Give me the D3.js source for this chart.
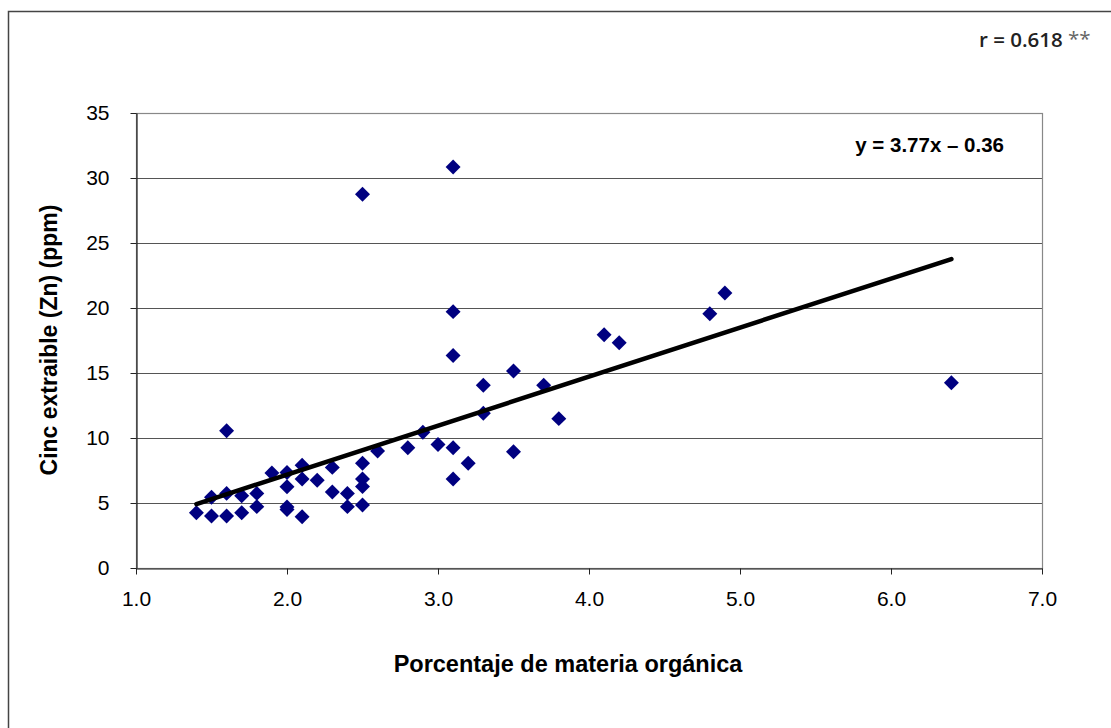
<!DOCTYPE html>
<html><head><meta charset="utf-8">
<script src="https://cdn.jsdelivr.net/npm/d3@7"></script>
<style>body{margin:0;background:#fff}svg{display:block}</style>
</head><body>
<svg id="chart" width="1111" height="728"></svg>
<script>
// % materia orgánica (x) and Cinc extraible (ppm) (y)
const materiaOrganica = [1.4, 1.5, 1.5, 1.6, 1.6, 1.6, 1.7, 1.7, 1.8, 1.8, 1.9,
  2.0, 2.0, 2.0, 2.0, 2.1, 2.1, 2.1, 2.2, 2.3, 2.3, 2.4, 2.4,
  2.5, 2.5, 2.5, 2.5, 2.5, 2.6, 2.8, 2.9, 3.0,
  3.1, 3.1, 3.1, 3.1, 3.1, 3.2, 3.3, 3.3, 3.5, 3.5, 3.7, 3.8,
  4.1, 4.2, 4.8, 4.9, 6.4];
const cincExtraible = [4.25, 5.44, 4.0, 10.56, 5.74, 4.0, 5.56, 4.25, 5.74, 4.72, 7.3,
  7.35, 6.25, 4.7, 4.5, 7.9, 6.85, 3.95, 6.75, 7.74, 5.85, 5.74, 4.72,
  28.75, 8.05, 6.85, 6.26, 4.85, 9.0, 9.25, 10.45, 9.5,
  30.85, 19.72, 16.35, 9.25, 6.85, 8.05, 14.05, 11.9, 15.15, 8.95, 14.05, 11.49,
  17.95, 17.33, 19.55, 21.15, 14.25];
const xTicks = [1, 2, 3, 4, 5, 6, 7];
const yTicks = [0, 5, 10, 15, 20, 25, 30, 35];
const trendSlope = 3.77, trendIntercept = -0.36;
const trendRange = [1.4, 6.4];
const xTitle = "Porcentaje de materia orgánica";
const yTitle = "Cinc extraible (Zn) (ppm)";
const equationLabel = "y = 3.77x \u2013 0.36";
const rLabel = "r = 0.618";
const rStars = "**";

const svg = d3.select("#chart");
const L = 136, R = 1042, T = 113, B = 568;
const FONT = "'Liberation Sans', Arial, sans-serif";
const x = d3.scaleLinear().domain([1, 7]).range([L, R]);
const y = d3.scaleLinear().domain([0, 35]).range([B, T]);

// outer frame
svg.append("rect").attr("x", 8.5).attr("y", 11.5).attr("width", 1120).attr("height", 740)
  .attr("fill", "none").attr("stroke", "#444").attr("stroke-width", 1.5);

// gridlines
svg.append("g").selectAll("line").data(yTicks.filter(d => d > 0 && d < 35)).join("line")
  .attr("x1", L).attr("x2", R)
  .attr("y1", d => Math.round(y(d)) + 0.5).attr("y2", d => Math.round(y(d)) + 0.5)
  .attr("stroke", "#555").attr("stroke-width", 1);

// plot border
svg.append("rect").attr("x", L + 0.5).attr("y", T + 0.5).attr("width", R - L).attr("height", B - T)
  .attr("fill", "none").attr("stroke", "#888").attr("stroke-width", 1.2);

// axes
const yAxis = svg.append("g").attr("transform", `translate(${L + 0.5},0)`)
  .call(d3.axisLeft(y).tickValues(yTicks).tickSize(6).tickPadding(21).tickSizeOuter(0).tickFormat(d3.format("d")));
const xAxis = svg.append("g").attr("transform", `translate(0,${B + 0.5})`)
  .call(d3.axisBottom(x).tickValues(xTicks).tickSize(6).tickPadding(17).tickSizeOuter(0).tickFormat(d3.format(".1f")));
[yAxis, xAxis].forEach(g => {
  g.selectAll("path.domain").attr("stroke", "#222").attr("stroke-width", 1.2);
  g.selectAll(".tick line").attr("stroke", "#222");
  g.selectAll("text").attr("font-family", FONT).attr("font-size", 21).attr("fill", "#000");
});

// points
const pts = materiaOrganica.map((v, i) => [v, cincExtraible[i]]);
const diamond = d3.symbol(d3.symbolSquare, 112)();
svg.append("g").selectAll("path").data(pts).join("path")
  .attr("d", diamond)
  .attr("transform", d => `translate(${x(d[0])},${y(d[1])}) rotate(45)`)
  .attr("fill", "#000080");

// trendline
svg.append("line")
  .attr("x1", x(trendRange[0])).attr("y1", y(trendSlope * trendRange[0] + trendIntercept))
  .attr("x2", x(trendRange[1])).attr("y2", y(trendSlope * trendRange[1] + trendIntercept))
  .attr("stroke", "#000").attr("stroke-width", 4.5).attr("stroke-linecap", "round");

// titles
svg.append("text").attr("x", 568).attr("y", 672).attr("text-anchor", "middle")
  .attr("font-family", FONT).attr("font-weight", "bold").attr("font-size", 23.5).text(xTitle);
svg.append("text").attr("transform", "translate(57,340) rotate(-90)").attr("text-anchor", "middle")
  .attr("font-family", FONT).attr("font-weight", "bold").attr("font-size", 23).text(yTitle);

// equation
svg.append("text").attr("x", 1004).attr("y", 152).attr("text-anchor", "end")
  .attr("font-family", FONT).attr("font-weight", "bold").attr("font-size", 20.5).text(equationLabel);

// r label
const rt = svg.append("text").attr("x", 979).attr("y", 47)
  .attr("font-family", "'Open Sans', 'Noto Sans', sans-serif").attr("font-weight", 600)
  .attr("font-size", 20.5).attr("fill", "#222");
rt.append("tspan").text(rLabel + " ");
rt.append("tspan").attr("fill", "#666").attr("font-weight", 400).attr("dy", -1).text(rStars);
</script>
</body></html>
